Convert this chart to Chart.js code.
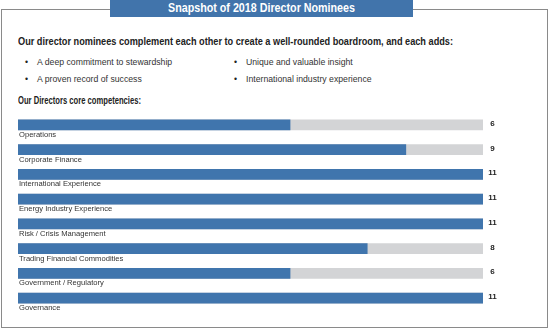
<!DOCTYPE html>
<html>
<head>
<meta charset="utf-8">
<script src="https://cdn.jsdelivr.net/npm/chart.js@4"></script>
<style>
  body { margin: 0; width: 549px; height: 329px; position: relative; background: #fff; overflow: hidden;
         font-family: "Liberation Sans", Arial, sans-serif; color: #333; }
  #frame { position: absolute; left: 1px; top: 9px; width: 545px; height: 317px; border: 1px solid #8a8a8a; }
  #banner { position: absolute; left: 110px; top: 0; width: 303px; height: 17px; background: #4174ab; }
  .fit { position: absolute; white-space: nowrap; transform-origin: left center; }
  #title { left: 168px; top: 0; line-height: 17px; color: #fff; font-weight: bold; font-size: 12.5px; }
  .head { left: 18px; font-weight: bold; font-size: 11px; color: #222; }
  .bul { position: absolute; white-space: nowrap; font-size: 8.7px; color: #333; }
  .bul::before { content: "\2022"; position: absolute; left: -12px; color: #222; }
  canvas { position: absolute; left: 0; top: 0; }
</style>
</head>
<body>
<div id="frame"></div>
<div id="banner"></div>
<div id="title" class="fit" data-w="187">Snapshot of 2018 Director Nominees</div>
<div class="head fit" data-w="435" style="top:35px">Our director nominees complement each other to create a well-rounded boardroom, and each adds:</div>
<div class="bul" style="left:37px; top:57px">A deep commitment to stewardship</div>
<div class="bul" style="left:37px; top:74px">A proven record of success</div>
<div class="bul" style="left:246px; top:57px">Unique and valuable insight</div>
<div class="bul" style="left:246px; top:74px">International industry experience</div>
<div class="head fit" data-w="123" style="top:94px">Our Directors core competencies:</div>
<canvas id="bar-chart" width="549" height="329"></canvas>
<script>
// squeeze headings to the condensed widths seen in the original
document.querySelectorAll('.fit').forEach(function (el) {
  var w = el.getBoundingClientRect().width;
  el.style.transform = 'scaleX(' + (el.dataset.w / w) + ')';
});

var categories = ["Operations", "Corporate Finance", "International Experience", "Energy Industry Experience",
                  "Risk / Crisis Management", "Trading Financial Commodities", "Government / Regulatory", "Governance"];
var directors = [6, 9, 11, 11, 11, 8, 6, 11];
var totalNominees = [11, 11, 11, 11, 11, 11, 11, 11];
var axisStart = -1.05;

var labelPlugin = {
  id: 'rowLabels',
  afterDatasetsDraw: function (chart) {
    var ctx = chart.ctx;
    var meta = chart.getDatasetMeta(0);
    var area = chart.chartArea;
    ctx.save();
    ctx.textBaseline = 'middle';
    meta.data.forEach(function (bar, i) {
      ctx.font = '7.6px "Liberation Sans", Arial, sans-serif';
      ctx.fillStyle = '#333';
      ctx.textAlign = 'left';
      ctx.fillText(categories[i], area.left + 1, bar.y + 10);
      ctx.font = 'bold 8px "Liberation Sans", Arial, sans-serif';
      ctx.fillStyle = '#222';
      ctx.textAlign = 'center';
      ctx.fillText(directors[i], area.right + 9.5, bar.y - 1.2);
    });
    ctx.restore();
  }
};

new Chart(document.getElementById("bar-chart"), {
  type: 'bar',
  data: {
    labels: categories,
    datasets: [
      {
        label: "Directors",
        data: directors,
        backgroundColor: '#4075ad',
        base: axisStart,
        barThickness: 10,
        grouped: false
      },
      {
        label: "Total",
        data: totalNominees,
        backgroundColor: '#d3d4d6',
        base: axisStart,
        barThickness: 10,
        grouped: false
      }
    ]
  },
  options: {
    indexAxis: 'y',
    responsive: false,
    animation: false,
    devicePixelRatio: 1,
    layout: { padding: { left: 18, right: 66, top: 112.5, bottom: 18.5 } },
    scales: {
      x: { display: false, min: axisStart, max: 11 },
      y: { display: false }
    },
    plugins: {
      legend: { display: false },
      tooltip: { enabled: false }
    }
  },
  plugins: [labelPlugin]
});
</script>
</body>
</html>
